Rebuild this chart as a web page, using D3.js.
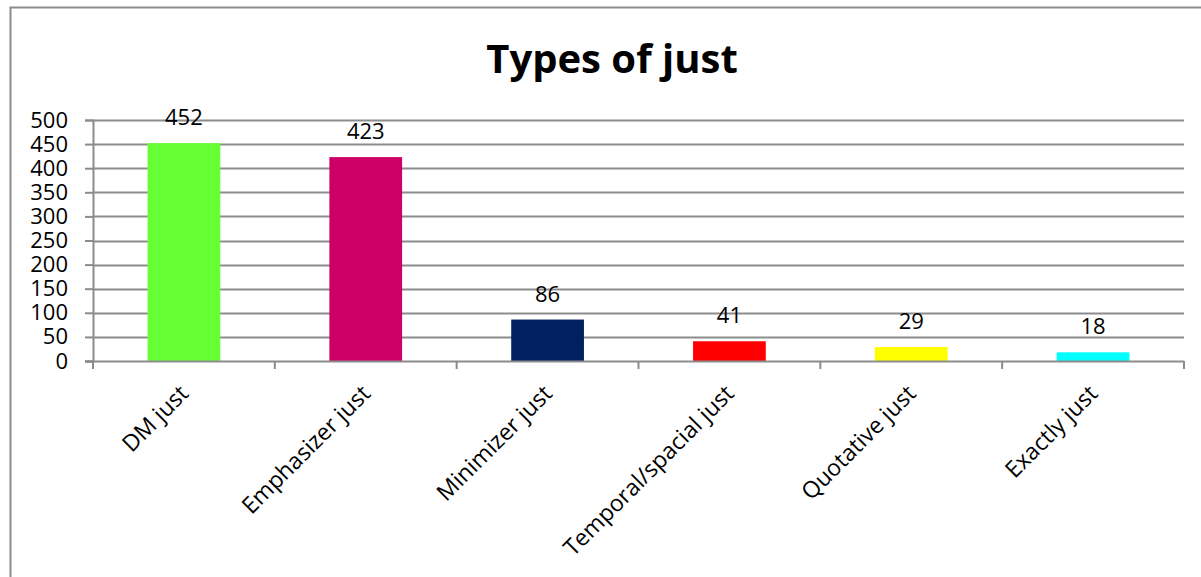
<!DOCTYPE html>
<html>
<head>
<meta charset="utf-8">
<script src="https://cdn.jsdelivr.net/npm/d3@7"></script>
<style>
  html, body { margin: 0; padding: 0; background: #fff; }
  svg { display: block; }
  text { font-family: "Open Sans", Lato, sans-serif; fill: #000; }
</style>
</head>
<body>
<svg id="chart" width="1201" height="577"></svg>
<script>
// Counts of each type of "just"
const categories = ["DM just", "Emphasizer just", "Minimizer just", "Temporal/spacial just", "Quotative just", "Exactly just"];
const counts = [452, 423, 86, 41, 29, 18];
const barColors = ["#66ff33", "#cc0066", "#002060", "#ff0000", "#ffff00", "#00ffff"];
const yTicks = [0, 50, 100, 150, 200, 250, 300, 350, 400, 450, 500];

const svg = d3.select("#chart");
const gridColor = "#8c8c8c";

// outer chart frame
svg.append("rect")
  .attr("x", 10.5).attr("y", 7.5)
  .attr("width", 1220).attr("height", 600)
  .attr("fill", "#fff").attr("stroke", gridColor).attr("stroke-width", 2);

const margin = { left: 93, right: 1184, top: 120, bottom: 361 };

const x = d3.scaleBand()
  .domain(categories)
  .range([margin.left, margin.right])
  .paddingInner(0.6)
  .paddingOuter(0.3);

const y = d3.scaleLinear()
  .domain([0, 500])
  .range([margin.bottom, margin.top]);

// title
svg.append("text")
  .attr("x", 612).attr("y", 73)
  .attr("text-anchor", "middle")
  .style("font-size", "40px")
  .style("font-weight", "bold")
  .text("Types of just");

// horizontal gridlines
svg.append("g")
  .selectAll("line")
  .data(yTicks.filter(d => d > 0))
  .join("line")
  .attr("x1", margin.left).attr("x2", margin.right)
  .attr("y1", d => Math.round(y(d)) + 0.5).attr("y2", d => Math.round(y(d)) + 0.5)
  .attr("stroke", gridColor).attr("stroke-width", 2);

// y axis
const yAxis = svg.append("g")
  .attr("transform", `translate(${margin.left},0)`)
  .call(d3.axisLeft(y).tickValues(yTicks).tickSize(8).tickPadding(17).tickFormat(d3.format("d")));
yAxis.select(".domain").attr("stroke", gridColor).attr("stroke-width", 2);
yAxis.selectAll(".tick line").attr("stroke", gridColor).attr("stroke-width", 2);
yAxis.selectAll(".tick text")
  .style("font-size", "22px")
  .style("font-family", "'Open Sans', Lato, sans-serif")
  .attr("fill", "#000");

// bars
svg.append("g")
  .selectAll("rect")
  .data(counts)
  .join("rect")
  .attr("x", (d, i) => x(categories[i]))
  .attr("width", x.bandwidth())
  .attr("y", d => y(d))
  .attr("height", d => y(0) - y(d))
  .attr("fill", (d, i) => barColors[i]);

// x axis with category boundary ticks
const xAxisG = svg.append("g").attr("transform", `translate(0,${margin.bottom})`);
xAxisG.append("line")
  .attr("x1", margin.left - 8).attr("x2", margin.right)
  .attr("y1", 0.5).attr("y2", 0.5)
  .attr("stroke", gridColor).attr("stroke-width", 2);
const step = x.step();
const bounds = d3.range(categories.length + 1).map(i => margin.left + i * step);
xAxisG.selectAll("line.bound")
  .data(bounds)
  .join("line")
  .attr("class", "bound")
  .attr("x1", d => d).attr("x2", d => d)
  .attr("y1", 0).attr("y2", 8)
  .attr("stroke", gridColor).attr("stroke-width", 2);

// rotated category labels
xAxisG.selectAll("text.cat")
  .data(categories)
  .join("text")
  .attr("class", "cat")
  .attr("transform", d => `translate(${x(d) + x.bandwidth() / 2 + 6},${34}) rotate(-45)`)
  .attr("text-anchor", "end")
  .style("font-size", "23px")
  .text(d => d);

// value labels above bars
svg.append("g")
  .selectAll("text")
  .data(counts)
  .join("text")
  .attr("x", (d, i) => x(categories[i]) + x.bandwidth() / 2)
  .attr("y", d => y(d) - 18)
  .attr("text-anchor", "middle")
  .style("font-size", "22px")
  .text(d => d);
</script>
</body>
</html>
